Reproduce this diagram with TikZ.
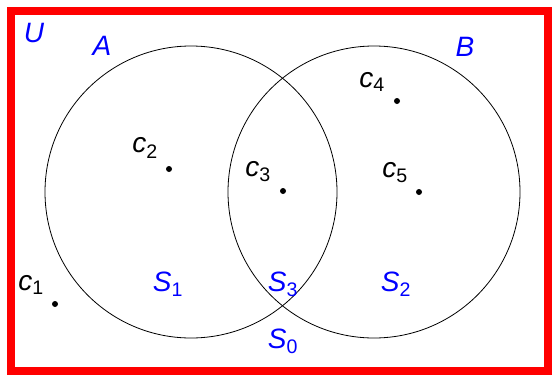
\documentclass[tikz,border=0pt]{standalone}
\usepackage{fontspec}
\setmainfont{Liberation Sans}
\usetikzlibrary{positioning}
\newcommand{\elt}[2]{\textit{#1}\textsubscript{#2}}
\tikzset{
  setname/.style={text=blue, inner sep=0pt, font=\fontsize{28}{32}\selectfont\itshape},
  region/.style={text=blue, inner sep=0pt, font=\fontsize{28}{32}\selectfont},
  elemlabel/.style={text=black, inner sep=0pt, font=\fontsize{28}{32}\selectfont},
  elemdot/.style={circle, fill=black, inner sep=0pt, minimum size=6pt},
  setcircle/.style={circle, draw=black, line width=0.8pt, minimum size=292pt, inner sep=0pt}
}
\begin{document}
\begin{tikzpicture}[x=1pt, y=-1pt]
  \useasboundingbox (0,0) rectangle (554,375);
  % universe
  \draw[red, line width=8pt] (11,11) rectangle (548,371);
  \node[setname] (U) at (34,33) {U};

  % the two sets
  \node[setcircle] (A) at (191,192) {};
  \node[setcircle] (B) at (374,192) {};
  \node[setname] (Alabel) at (102,46) {A};
  \node[setname] (Blabel) at (465,47) {B};

  % regions
  \node[region] (S1) at (168,284) {\elt{S}{1}};
  \node[region] (S2) at (396,284) {\elt{S}{2}};
  \node[region] (S3) at (283,284) {\elt{S}{3}};
  \node[region] (S0) at (283,341) {\elt{S}{0}};

  % elements
  \node[elemdot] (c1) at (55,304) {};
  \node[elemdot] (c2) at (169,169) {};
  \node[elemdot] (c3) at (283,191) {};
  \node[elemdot] (c4) at (397,101) {};
  \node[elemdot] (c5) at (419,192) {};
  \node[elemlabel] (c1label) at (31,285) {\elt{c}{1}};
  \node[elemlabel] (c2label) at (145,148) {\elt{c}{2}};
  \node[elemlabel] (c3label) at (258,172) {\elt{c}{3}};
  \node[elemlabel] (c4label) at (372,82) {\elt{c}{4}};
  \node[elemlabel] (c5label) at (395,173) {\elt{c}{5}};
\end{tikzpicture}
\end{document}
